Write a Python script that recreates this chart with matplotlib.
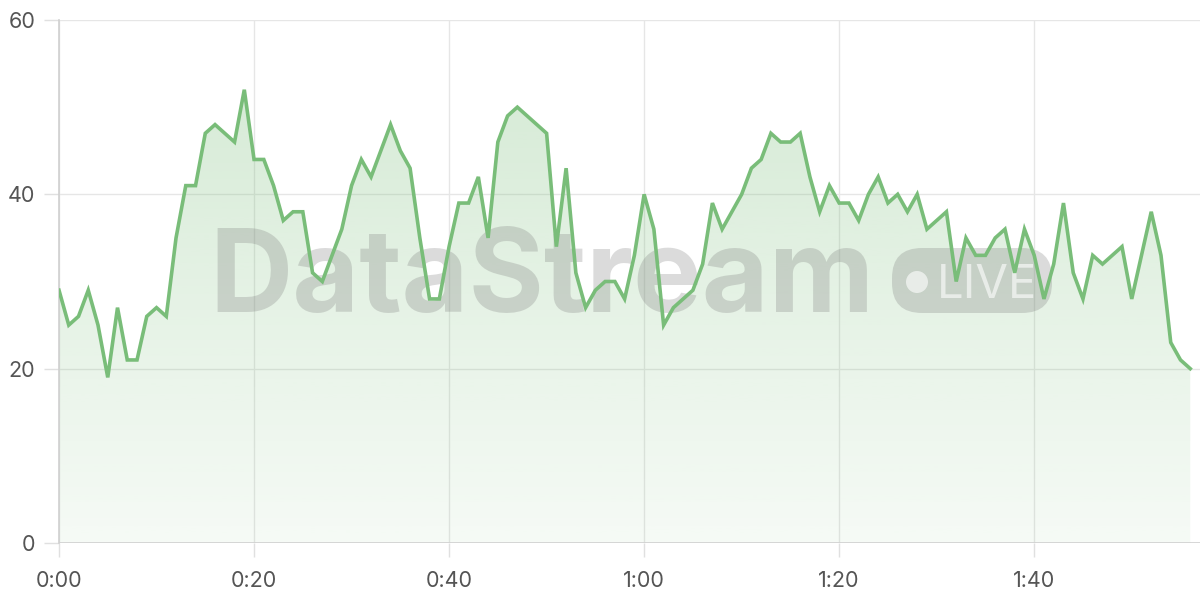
import numpy as np
import matplotlib.pyplot as plt
from matplotlib.patches import FancyBboxPatch, Circle
from matplotlib.colors import to_rgb

# Series: one value per time step (0:00 ... 1:56)
values = [29, 25, 26, 29, 25, 19, 27, 21, 21, 26,
          27, 26, 35, 41, 41, 47, 48, 47, 46, 52,
          44, 44, 41, 37, 38, 38, 31, 30, 33, 36,
          41, 44, 42, 45, 48, 45, 43, 35, 28, 28,
          34, 39, 39, 42, 35, 46, 49, 50, 49, 48,
          47, 34, 43, 31, 27, 29, 30, 30, 28, 33,
          40, 36, 25, 27, 28, 29, 32, 39, 36, 38,
          40, 43, 44, 47, 46, 46, 47, 42, 38, 41,
          39, 39, 37, 40, 42, 39, 40, 38, 40, 36,
          37, 38, 30, 35, 33, 33, 35, 36, 31, 36,
          33, 28, 32, 39, 31, 28, 33, 32, 33, 34,
          28, 33, 38, 33, 23, 21, 20]
x_ticks = [0, 20, 40, 60, 80, 100]
x_labels = ['0:00', '0:20', '0:40', '1:00', '1:20', '1:40']
y_ticks = [0, 20, 40, 60]

line_color = '#79bd79'
x = np.arange(len(values))
y = np.array(values)

plt.rcParams['font.family'] = ['Inter', 'DejaVu Sans']

fig = plt.figure(figsize=(12, 6), dpi=100)
ax = fig.add_axes([59 / 1200, 1 - 543 / 600, 1 - 59 / 1200, (543 - 20) / 600])

# gradient fill under the line
poly = ax.fill_between(x, y, 0, color='none', lw=0)
r, g, b = to_rgb(line_color)
alpha = np.linspace(0.30, 0.07, 256)[:, None]
grad = np.zeros((256, 1, 4))
grad[..., 0], grad[..., 1], grad[..., 2] = r, g, b
grad[..., 3] = alpha
img = ax.imshow(grad, aspect='auto', extent=(0, len(values) - 1, 0, max(values)),
                origin='upper', zorder=1, interpolation='bilinear')
img.set_clip_path(poly.get_paths()[0], transform=ax.transData)
ax.set_xlim(0, 117)
ax.set_ylim(0, 60)

ax.plot(x, y, color=line_color, lw=2.6, zorder=4, solid_joinstyle='miter')

# watermark
tr = fig.dpi_scale_trans
wm = '#7a7a7a'
ax.text(2.09, 6 - 3.12, 'DataStream', transform=tr, fontsize=83, fontweight='bold',
        color=wm, alpha=0.27, ha='left', va='baseline', zorder=3, clip_on=False)
pill = FancyBboxPatch((8.92, 2.87), 1.60, 0.65, boxstyle='round,pad=0,rounding_size=0.3',
                      transform=tr, facecolor=wm, edgecolor='none', alpha=0.27,
                      zorder=3, clip_on=False)
ax.add_patch(pill)
ax.add_patch(Circle((9.17, 3.18), 0.11, transform=tr, facecolor='white', alpha=0.6,
                    edgecolor='none', zorder=3, clip_on=False))
ax.text(9.37, 6 - 2.98, 'LIVE', transform=tr, fontsize=34, color='white', alpha=0.6,
        ha='left', va='baseline', zorder=3, clip_on=False)

# axes styling
ax.set_xticks(x_ticks)
ax.set_xticklabels(x_labels)
ax.set_yticks(y_ticks)
ax.grid(True, color='#e6e6e6', lw=1.0)
ax.set_axisbelow(True)
for side in ['top', 'right', 'bottom']:
    ax.spines[side].set_visible(False)
ax.spines['left'].set_color('#d0d0d0')
ax.spines['left'].set_linewidth(1.2)
ax.axhline(0, color='#d0d0d0', lw=1.2, zorder=2)
ax.tick_params(axis='x', length=10, color='#e0e0e0', width=1.0, pad=10,
               labelsize=15.5, labelcolor='#555555')
ax.tick_params(axis='y', length=11, color='#e0e0e0', width=1.0, pad=6,
               labelsize=15.5, labelcolor='#555555')

fig.savefig('out.png', dpi=100)
